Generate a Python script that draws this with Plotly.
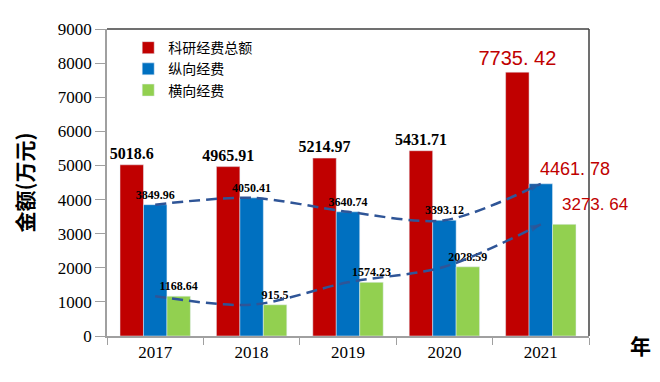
import plotly.graph_objects as go

years = ["2017", "2018", "2019", "2020", "2021"]
total = [5018.6, 4965.91, 5214.97, 5431.71, 7735.42]
vertical = [3849.96, 4050.41, 3640.74, 3393.12, 4461.78]
horizontal = [1168.64, 915.5, 1574.23, 2028.59, 3273.64]
y_ticks = list(range(0, 9001, 1000))
series_names = ["科研经费总额", "纵向经费", "横向经费"]

RED = "#C00000"
BLUE = "#0070C0"
GREEN = "#92D050"
CURVE = "#2F5597"
SERIF = "Liberation Serif"
SANS = "Liberation Sans"
CJK = "Noto Sans CJK SC"


def spaced(v):
    return f"{v:.2f}".replace(".", ". ")


def bold_labels(vals, last=""):
    return [f"<b>{v}</b>" for v in vals[:-1]] + [last]


fig = go.Figure()

fig.add_trace(go.Bar(
    name=series_names[0], x=years, y=total, marker_color=RED,
    text=bold_labels(total, spaced(total[-1])), textposition="outside",
    textfont=dict(family=[SERIF] * 4 + [SANS], size=[16] * 4 + [20],
                  color=["#000000"] * 4 + [RED]),
    cliponaxis=False, constraintext="none",
))
fig.add_trace(go.Bar(
    name=series_names[1], x=years, y=vertical, marker_color=BLUE,
    text=bold_labels(vertical), textposition="outside",
    textfont=dict(family=SERIF, size=12, color="#000000"),
    cliponaxis=False, constraintext="none",
))
fig.add_trace(go.Bar(
    name=series_names[2], x=years, y=horizontal, marker_color=GREEN,
    text=bold_labels(horizontal), textposition="outside",
    textfont=dict(family=SERIF, size=12, color="#000000"),
    cliponaxis=False, constraintext="none",
))

for vals in (vertical, horizontal):
    n = len(vals)
    fig.add_trace(go.Scatter(
        x=years, y=vals, mode="lines+markers", showlegend=False, hoverinfo="skip",
        line=dict(color=CURVE, width=2.5, dash="11px,6px", shape="spline", smoothing=0.85),
        marker=dict(symbol="arrow", angleref="previous", size=[0] * (n - 1) + [11],
                    color=CURVE, line=dict(width=0)),
    ))

last = len(years) - 1
annotations = [
    dict(x=last, y=vertical[-1], xref="x", yref="y", text=spaced(vertical[-1]),
         showarrow=False, xshift=34, yshift=15, xanchor="center", yanchor="middle",
         font=dict(family=SANS, size=18, color=RED)),
    dict(x=last, y=horizontal[-1], xref="x", yref="y", text=spaced(horizontal[-1]),
         showarrow=False, xshift=54, yshift=20, xanchor="center", yanchor="middle",
         font=dict(family=SANS, size=17, color=RED)),
    dict(x=0, y=0.5, xref="paper", yref="paper", text="<b>金额(万元)</b>", textangle=-90,
         showarrow=False, xshift=-84, yshift=0, xanchor="center", yanchor="middle",
         font=dict(family=CJK, size=21, color="#000000")),
    dict(x=1, y=0, xref="paper", yref="paper", text="<b>年</b>",
         showarrow=False, xshift=51, yshift=-9, xanchor="center", yanchor="middle",
         font=dict(family=CJK, size=21, color="#000000")),
]

shapes = [
    dict(type="line", xref="paper", yref="paper", x0=0, x1=1, y0=1, y1=1,
         line=dict(color="#404040", width=1.5)),
    dict(type="line", xref="paper", yref="paper", x0=1, x1=1, y0=0, y1=1,
         line=dict(color="#404040", width=1.5)),
]

# the page body has an 8px margin, so the figure is sized to fill the rest
fig.update_layout(
    width=652, height=374,
    margin=dict(l=99, r=71, t=17, b=46),
    paper_bgcolor="white", plot_bgcolor="white",
    barmode="group", bargap=0.27, bargroupgap=0,
    showlegend=True,
    legend=dict(x=0.044, y=0.99, xanchor="left", yanchor="top",
                font=dict(family=CJK, size=14, color="#000000"),
                bgcolor="rgba(0,0,0,0)", tracegroupgap=0, itemwidth=30),
    annotations=annotations, shapes=shapes,
    xaxis=dict(type="category", range=[-0.5, last + 0.5], showline=True,
               linecolor="#A0A0A0", linewidth=1.5,
               ticks="outside", tickson="boundaries", ticklen=7, tickcolor="#A0A0A0",
               tickfont=dict(family=SERIF, size=17, color="#000000"), showgrid=False),
    yaxis=dict(range=[0, 9000], tickvals=y_ticks, showline=True, linecolor="#A0A0A0",
               linewidth=1.5, ticks="outside", ticklen=10, tickcolor="#A0A0A0",
               tickfont=dict(family=SERIF, size=17, color="#000000"), showgrid=False,
               zeroline=False),
)

fig.write_html("out.html")
